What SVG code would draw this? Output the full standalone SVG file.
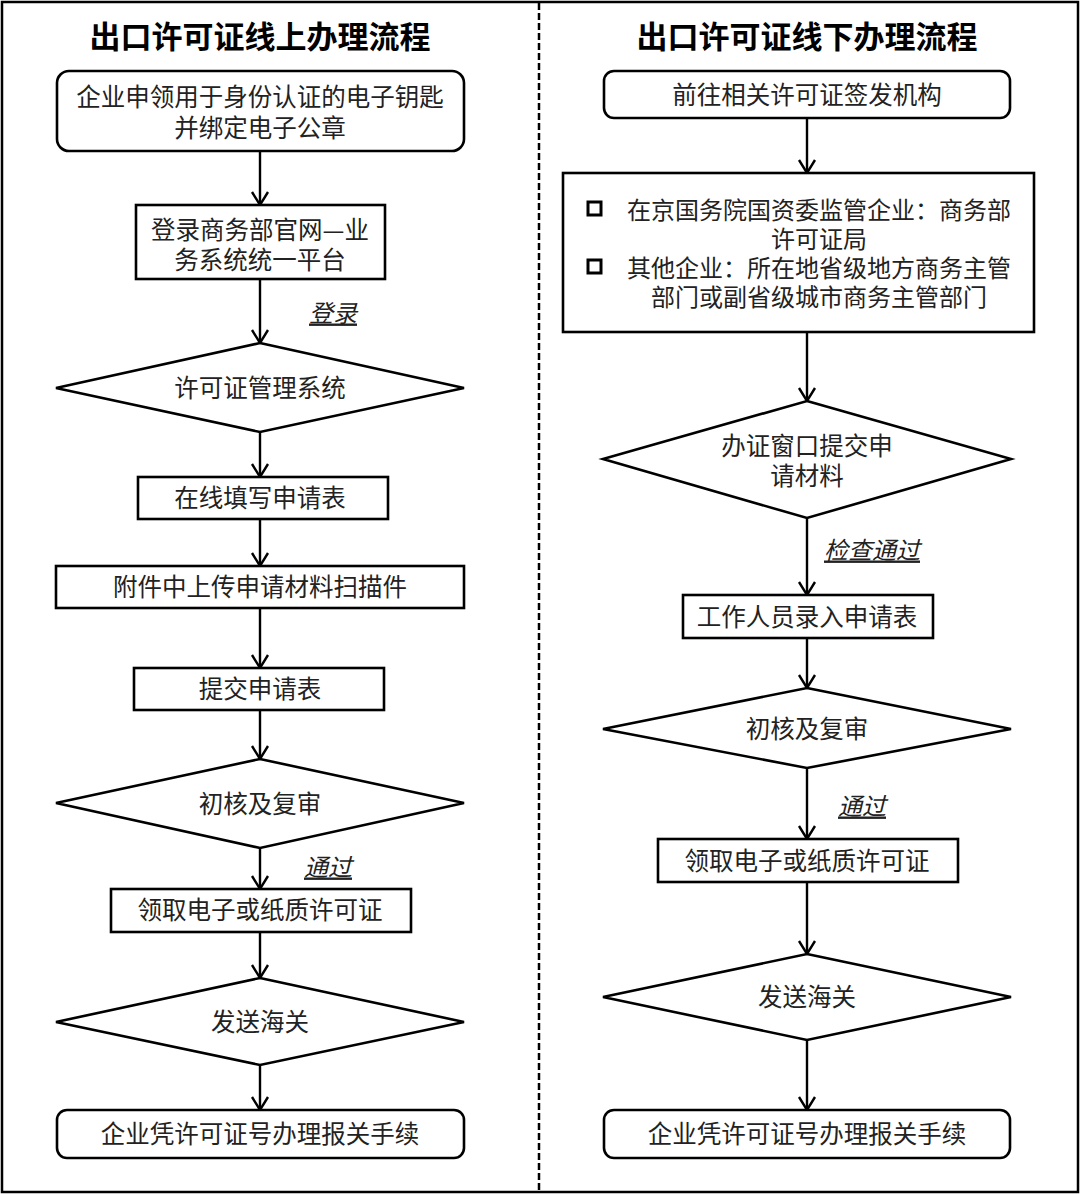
<svg xmlns="http://www.w3.org/2000/svg" width="1080" height="1194" viewBox="0 0 1080 1194">
<style>
text{font-family:"Noto Sans CJK SC","Noto Sans",sans-serif;fill:#222;text-anchor:middle;dominant-baseline:central}
.t{font-size:24.5px}
.b{font-size:24px}
.title{font-size:31px;font-weight:bold;fill:#000}
.lbl{font-size:24px;font-style:italic;text-decoration:underline}
.s{fill:#fff;stroke:#000;stroke-width:2.6}
.c{stroke:#000;stroke-width:2.4;fill:none;marker-end:url(#ah)}
</style>
<defs>
<marker id="ah" markerUnits="userSpaceOnUse" viewBox="-2 -10 18 20" markerWidth="18" markerHeight="20" refX="13" refY="0" orient="auto">
<path d="M0,-8 L13,0 L0,8" fill="none" stroke="#000" stroke-width="2.4"/>
</marker>
</defs>
<rect x="0" y="0" width="1080" height="1194" fill="#fff"/>
<rect x="2" y="2" width="1076" height="1190" fill="none" stroke="#000" stroke-width="2.5"/>
<line x1="539" y1="3" x2="539" y2="1191" stroke="#000" stroke-width="2.5" stroke-dasharray="7 3"/>
<text class="title" x="260" y="34">出口许可证线上办理流程</text>
<text class="title" x="807" y="34">出口许可证线下办理流程</text>
<g id="connectors">
<line class="c" x1="260" y1="151" x2="260" y2="205"/>
<line class="c" x1="260" y1="279" x2="260" y2="343"/>
<line class="c" x1="260" y1="432" x2="260" y2="477"/>
<line class="c" x1="260" y1="519" x2="260" y2="566"/>
<line class="c" x1="260" y1="608" x2="260" y2="668"/>
<line class="c" x1="260" y1="710" x2="260" y2="759"/>
<line class="c" x1="260" y1="848" x2="260" y2="889"/>
<line class="c" x1="260" y1="932" x2="260" y2="978"/>
<line class="c" x1="260" y1="1065" x2="260" y2="1110"/>
<line class="c" x1="807" y1="118" x2="807" y2="173"/>
<line class="c" x1="807" y1="332" x2="807" y2="401"/>
<line class="c" x1="807" y1="518" x2="807" y2="595"/>
<line class="c" x1="807" y1="638" x2="807" y2="688"/>
<line class="c" x1="807" y1="768" x2="807" y2="839"/>
<line class="c" x1="807" y1="882" x2="807" y2="954"/>
<line class="c" x1="807" y1="1040" x2="807" y2="1110"/>
<text class="lbl" x="333" y="311">登录</text>
<text class="lbl" x="328" y="865">通过</text>
<text class="lbl" x="872" y="548">检查通过</text>
<text class="lbl" x="862" y="804">通过</text>
</g>
<g id="L1"><rect class="s" x="57" y="71" width="407" height="80" rx="12"/><text class="t" x="260" y="95">企业申领用于身份认证的电子钥匙</text><text class="t" x="260" y="126">并绑定电子公章</text></g>
<g id="L2"><rect class="s" x="136" y="205" width="249" height="74"/><text class="t" x="260" y="228">登录商务部官网—业</text><text class="t" x="260" y="258">务系统统一平台</text></g>
<g id="L3"><polygon class="s" points="260,343 464,388 260,432 56,388"/><text class="t" x="260" y="386">许可证管理系统</text></g>
<g id="L4"><rect class="s" x="138" y="477" width="250" height="42"/><text class="t" x="260" y="496">在线填写申请表</text></g>
<g id="L5"><rect class="s" x="56" y="566" width="408" height="42"/><text class="t" x="260" y="585">附件中上传申请材料扫描件</text></g>
<g id="L6"><rect class="s" x="134" y="668" width="250" height="42"/><text class="t" x="260" y="687">提交申请表</text></g>
<g id="L7"><polygon class="s" points="260,759 464,803 260,848 56,803"/><text class="t" x="260" y="802">初核及复审</text></g>
<g id="L8"><rect class="s" x="111" y="889" width="300" height="43"/><text class="t" x="260" y="908">领取电子或纸质许可证</text></g>
<g id="L9"><polygon class="s" points="260,978 464,1022 260,1065 56,1022"/><text class="t" x="260" y="1020">发送海关</text></g>
<g id="L10"><rect class="s" x="57" y="1110" width="407" height="48" rx="10"/><text class="t" x="260" y="1132">企业凭许可证号办理报关手续</text></g>
<g id="R1"><rect class="s" x="604" y="71" width="406" height="47" rx="10"/><text class="t" x="807" y="93">前往相关许可证签发机构</text></g>
<g id="R2"><rect class="s" x="563" y="173" width="471" height="159"/>
<rect x="588" y="202" width="13" height="13" fill="none" stroke="#000" stroke-width="3"/>
<rect x="588" y="260" width="13" height="13" fill="none" stroke="#000" stroke-width="3"/>
<text class="b" x="819" y="208">在京国务院国资委监管企业：商务部</text>
<text class="b" x="819" y="237">许可证局</text>
<text class="b" x="819" y="266">其他企业：所在地省级地方商务主管</text>
<text class="b" x="819" y="295">部门或副省级城市商务主管部门</text></g>
<g id="R3"><polygon class="s" points="807,401 1011,459 807,518 603,459"/><text class="t" x="807" y="444">办证窗口提交申</text><text class="t" x="807" y="474">请材料</text></g>
<g id="R4"><rect class="s" x="683" y="595" width="250" height="43"/><text class="t" x="807" y="615">工作人员录入申请表</text></g>
<g id="R5"><polygon class="s" points="807,688 1011,729 807,768 603,729"/><text class="t" x="807" y="727">初核及复审</text></g>
<g id="R6"><rect class="s" x="658" y="839" width="300" height="43"/><text class="t" x="807" y="859">领取电子或纸质许可证</text></g>
<g id="R7"><polygon class="s" points="807,954 1011,997 807,1040 603,997"/><text class="t" x="807" y="995">发送海关</text></g>
<g id="R8"><rect class="s" x="604" y="1110" width="406" height="48" rx="10"/><text class="t" x="807" y="1132">企业凭许可证号办理报关手续</text></g>
</svg>
